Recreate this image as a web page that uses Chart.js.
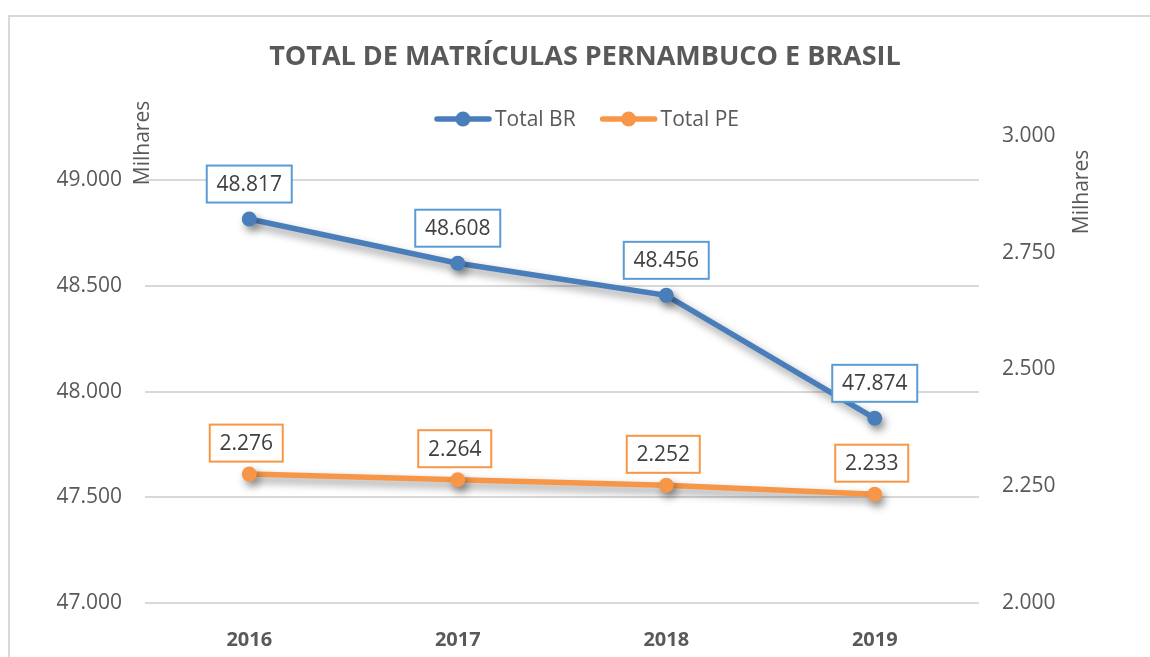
<!DOCTYPE html>
<html>
<head>
<meta charset="utf-8">
<title>Total de matrículas Pernambuco e Brasil</title>
<script src="https://cdn.jsdelivr.net/npm/chart.js@4.4.1/dist/chart.umd.min.js"></script>
<style>
  html, body { margin: 0; padding: 0; background: #fff; }
  #wrap { position: relative; width: 1150px; height: 657px; overflow: hidden; }
  #frame { position: absolute; left: 8px; top: 15px; width: 1200px; height: 700px; border: 2px solid #d9d9d9; box-sizing: border-box; }
  #chart { position: absolute; left: 0; top: 0; }
</style>
</head>
<body>
<div id="wrap">
  <div id="frame"></div>
  <canvas id="chart" width="1150" height="657"></canvas>
</div>
<script>
// values in milhares (thousands)
const years = ['2016', '2017', '2018', '2019'];
const totalBR = [48817, 48608, 48456, 47874];
const totalPE = [2276, 2264, 2252, 2233];
const leftTicks = [47000, 47500, 48000, 48500, 49000];
const rightTicks = [2000, 2250, 2500, 2750, 3000];

const FONT = '"Open Sans", "DejaVu Sans", sans-serif';
const GRAY = '#595959';
const BLUE = '#4A7EBB';
const ORANGE = '#F79646';

Chart.defaults.font.family = FONT;
Chart.defaults.color = GRAY;

// thousands separator with a dot, like "48.817"
function fmt(v) {
    return String(v).replace(/\B(?=(\d{3})+(?!\d))/g, '.');
}

// soft drop shadow under the lines, like the Excel original
const shadowPlugin = {
    id: 'lineShadow',
    beforeDatasetsDraw(chart) {
        const c = chart.ctx;
        c.save();
        c.shadowColor = 'rgba(0, 0, 0, 0.42)';
        c.shadowBlur = 8;
        c.shadowOffsetX = 3;
        c.shadowOffsetY = 5;
    },
    afterDatasetsDraw(chart) {
        chart.ctx.restore();
    }
};

// boxed value labels above each point
const labelStyles = [
    { border: '#5B9BD5', dy: 35, dx: 0 },
    { border: '#F79646', dy: 31, dx: -3 }
];
const valueLabels = {
    id: 'valueLabels',
    afterDraw(chart) {
        const c = chart.ctx;
        c.save();
        c.font = '21px ' + FONT;
        c.textAlign = 'center';
        c.textBaseline = 'middle';
        chart.data.datasets.forEach((ds, i) => {
            const meta = chart.getDatasetMeta(i);
            const st = labelStyles[i];
            meta.data.forEach((pt, j) => {
                const txt = fmt(ds.data[j]);
                const w = Math.round(c.measureText(txt).width + 19);
                const h = 37;
                const cx = pt.x + st.dx;
                const cy = pt.y - st.dy;
                c.fillStyle = '#fff';
                c.fillRect(cx - w / 2, cy - h / 2, w, h);
                c.strokeStyle = st.border;
                c.lineWidth = 2;
                c.strokeRect(cx - w / 2, cy - h / 2, w, h);
                c.fillStyle = '#404040';
                c.fillText(txt, cx, cy + 1);
            });
        });
        c.restore();
    }
};

// legend (line + marker) and the "Milhares" display-unit labels
const extras = {
    id: 'extras',
    afterDraw(chart) {
        const c = chart.ctx;
        const area = chart.chartArea;
        c.save();
        c.font = '21px ' + FONT;
        c.textBaseline = 'middle';
        c.fillStyle = GRAY;

        const items = chart.data.datasets.map(ds => ({ label: ds.label, color: ds.borderColor }));
        const lineW = 56, gap = 4, itemGap = 25;
        let total = 0;
        items.forEach((it, k) => {
            it.tw = c.measureText(it.label).width;
            total += lineW + gap + it.tw + (k ? itemGap : 0);
        });
        let x = 587 - total / 2;
        const y = 119;
        items.forEach((it, k) => {
            if (k) x += itemGap;
            c.strokeStyle = it.color;
            c.lineWidth = 5.5;
            c.lineCap = 'round';
            c.beginPath();
            c.moveTo(x + 2, y);
            c.lineTo(x + lineW - 2, y);
            c.stroke();
            c.fillStyle = it.color;
            c.beginPath();
            c.arc(x + lineW / 2, y, 7.5, 0, Math.PI * 2);
            c.fill();
            c.fillStyle = GRAY;
            c.textAlign = 'left';
            c.fillText(it.label, x + lineW + gap, y + 1);
            x += lineW + gap + it.tw;
        });

        c.textAlign = 'center';
        c.save();
        c.translate(area.left - 2, area.top + 7);
        c.rotate(-Math.PI / 2);
        c.fillText('Milhares', 0, 0);
        c.restore();
        c.save();
        c.translate(area.right + 103, area.top + 56);
        c.rotate(-Math.PI / 2);
        c.fillText('Milhares', 0, 0);
        c.restore();
        c.restore();
    }
};

const ctx = document.getElementById('chart').getContext('2d');
const myChart = new Chart(ctx, {
    type: 'line',
    data: {
        labels: years,
        datasets: [{
            label: 'Total BR',
            data: totalBR,
            yAxisID: 'yL',
            borderColor: BLUE,
            backgroundColor: BLUE,
            borderWidth: 5.5,
            pointRadius: 7.5,
            pointBorderWidth: 0,
            pointBackgroundColor: BLUE,
            tension: 0
        }, {
            label: 'Total PE',
            data: totalPE,
            yAxisID: 'yR',
            borderColor: ORANGE,
            backgroundColor: ORANGE,
            borderWidth: 5.5,
            pointRadius: 7.5,
            pointBorderWidth: 0,
            pointBackgroundColor: ORANGE,
            tension: 0
        }]
    },
    options: {
        responsive: false,
        devicePixelRatio: 1,
        animation: false,
        layout: { padding: { left: 20, right: 0, top: 0, bottom: 0 } },
        plugins: {
            legend: { display: false },
            tooltip: { enabled: false },
            title: {
                display: true,
                text: 'TOTAL DE MATRÍCULAS PERNAMBUCO E BRASIL',
                color: GRAY,
                font: { size: 27, weight: 'bold' },
                padding: { top: 41, bottom: 62.6 }
            }
        },
        scales: {
            x: {
                type: 'category',
                offset: true,
                grid: { display: false },
                border: { display: false },
                ticks: { color: GRAY, font: { size: 20, weight: 'bold' }, padding: 17 },
                afterFit: s => { s.height = 54; }
            },
            yL: {
                position: 'left',
                min: 47000,
                max: 49210,
                grid: { color: '#d9d9d9', lineWidth: 2, drawTicks: false },
                border: { display: false },
                ticks: { color: GRAY, font: { size: 21 }, padding: 23, callback: v => fmt(v) },
                afterBuildTicks: s => { s.ticks = leftTicks.map(v => ({ value: v })); },
                afterFit: s => { s.width = 125; }
            },
            yR: {
                position: 'right',
                min: 2000,
                max: 3000,
                grid: { display: false, drawTicks: false },
                border: { display: false },
                ticks: { color: GRAY, font: { size: 21 }, padding: 23, callback: v => fmt(v) },
                afterBuildTicks: s => { s.ticks = rightTicks.map(v => ({ value: v })); },
                afterFit: s => { s.width = 171; }
            }
        }
    },
    plugins: [shadowPlugin, valueLabels, extras]
});
</script>
</body>
</html>
